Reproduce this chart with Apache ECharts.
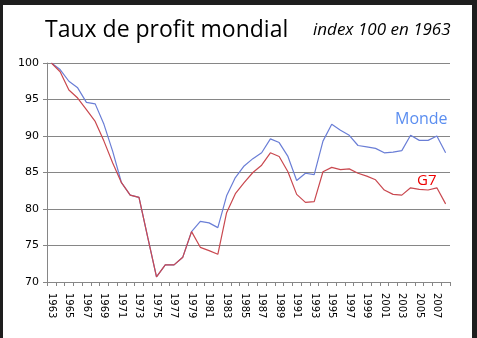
<!DOCTYPE html>
<html>
<head>
<meta charset="utf-8">
<script src="https://cdn.jsdelivr.net/npm/echarts@6/dist/echarts.min.js"></script>
<style>
  html, body { margin: 0; padding: 0; background: #1e1e1e; width: 477px; height: 338px; overflow: hidden; }
  #chart { position: absolute; left: 3px; top: 5px; width: 469px; height: 333px; background: #ffffff; }
</style>
</head>
<body>
<div id="chart"></div>
<script>
// Years 1963–2008
const years = [];
for (let y = 1963; y <= 2008; y++) years.push(String(y));

// Profit rate index (1963 = 100)
const monde = [
  100.0, 99.1, 97.5, 96.6, 94.6, 94.4, 91.6, 87.9, 83.6, 81.9,
  81.6, 76.1, 70.7, 72.35, 72.35, 73.4, 76.9, 78.3, 78.1, 77.45,
  81.8, 84.3, 85.9, 86.9, 87.7, 89.6, 89.1, 87.2, 83.9, 84.9,
  84.7, 89.3, 91.6, 90.8, 90.1, 88.7, 88.5, 88.3, 87.7, 87.8,
  88.0, 90.1, 89.4, 89.4, 90.0, 87.7
];
const g7 = [
  100.0, 98.8, 96.3, 95.2, 93.6, 92.0, 89.3, 86.3, 83.6, 81.9,
  81.6, 76.1, 70.7, 72.35, 72.35, 73.4, 76.9, 74.75, 74.3, 73.8,
  79.5, 82.1, 83.6, 85.0, 86.0, 87.7, 87.2, 85.1, 82.0, 80.9,
  81.0, 85.1, 85.7, 85.4, 85.5, 84.9, 84.5, 84.0, 82.6, 82.0,
  81.9, 82.9, 82.7, 82.6, 82.9, 80.7
];

const chart = echarts.init(document.getElementById('chart'));
const axisFont = 'DejaVu Sans, Verdana, sans-serif';

chart.setOption({
  animation: false,
  backgroundColor: '#ffffff',
  grid: { left: 44, right: 22, top: 58, bottom: 56, containLabel: false },
  graphic: [
    { type: 'text', left: 42, top: 14,
      style: { text: 'Taux de profit mondial', font: '23px "Open Sans", sans-serif', fill: '#000000' } },
    { type: 'text', left: 310, top: 17,
      style: { text: 'index 100 en 1963', font: 'italic 17px "Open Sans", sans-serif', fill: '#000000' } },
    { type: 'text', left: 392, top: 106,
      style: { text: 'Monde', font: '16px "Open Sans", sans-serif', fill: '#5b8ef0' } },
    { type: 'text', left: 414, top: 168,
      style: { text: 'G7', font: '15px "Open Sans", sans-serif', fill: '#ee0000' } }
  ],
  xAxis: {
    type: 'category',
    data: years,
    boundaryGap: true,
    axisLine: { lineStyle: { color: '#868686', width: 1 } },
    axisTick: { show: true, interval: 0, length: 4, lineStyle: { color: '#868686' } },
    axisLabel: {
      interval: 1, rotate: -90, color: '#000000',
      fontFamily: axisFont, fontSize: 10, margin: 11
    },
    splitLine: { show: false }
  },
  yAxis: {
    type: 'value',
    min: 70, max: 100, interval: 5,
    axisLine: { show: true, lineStyle: { color: '#868686', width: 1 } },
    axisTick: { show: true, length: 4, lineStyle: { color: '#868686' } },
    axisLabel: { color: '#000000', fontFamily: axisFont, fontSize: 11, margin: 8 },
    splitLine: { lineStyle: { color: '#868686', width: 1 } }
  },
  series: [
    {
      name: 'Monde', type: 'line', data: monde,
      symbol: 'none', smooth: false,
      lineStyle: { color: '#6a7ed6', width: 1.2 }, z: 2
    },
    {
      name: 'G7', type: 'line', data: g7,
      symbol: 'none', smooth: false,
      lineStyle: { color: '#c9484f', width: 1.2 }, z: 3
    }
  ]
});
</script>
</body>
</html>
